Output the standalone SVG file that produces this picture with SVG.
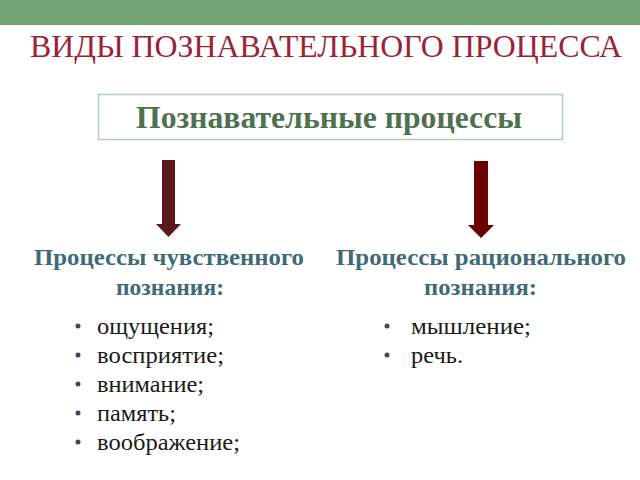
<svg xmlns="http://www.w3.org/2000/svg" width="640" height="480" viewBox="0 0 640 480">
<style>
.serif{font-family:"Liberation Serif","Times New Roman",serif}
.head{font-weight:bold;font-size:24px;fill:#3e6b77}
.item{font-size:24px;fill:#1a1a1a}
.bul{fill:#3a4a5a}
</style>
<rect width="640" height="480" fill="#ffffff"/>
<rect x="0" y="0" width="640" height="25" fill="#71a474"/>
<text class="serif" x="30" y="57" font-size="32" fill="#9b2335" textLength="592" lengthAdjust="spacingAndGlyphs">ВИДЫ ПОЗНАВАТЕЛЬНОГО ПРОЦЕССА</text>
<g id="root">
<rect x="98.5" y="94.5" width="464" height="45" fill="#ffffff" stroke="#b5ccb5" stroke-width="1.5"/>
<text class="serif" x="136" y="128" font-size="31" font-weight="bold" fill="#4f7150" textLength="386" lengthAdjust="spacingAndGlyphs">Познавательные процессы</text>
</g>
<g id="connectors">
<polygon points="162,160 175,160 175,224 181,224 168.5,237 156,224 162,224" fill="#5a1a1a"/>
<polygon points="474,161 488,161 488,225 494,225 481,238 468,225 474,225" fill="#6b0000"/>
</g>
<g id="sensory">
<text class="serif head" x="34" y="265" textLength="270" lengthAdjust="spacingAndGlyphs">Процессы чувственного</text>
<text class="serif head" x="116" y="295" textLength="108" lengthAdjust="spacingAndGlyphs">познания:</text>
<g class="serif item">
<circle class="bul" cx="78" cy="326" r="2.5"/><text x="97" y="334" textLength="117" lengthAdjust="spacingAndGlyphs">ощущения;</text>
<circle class="bul" cx="78" cy="355" r="2.5"/><text x="97" y="363" textLength="127" lengthAdjust="spacingAndGlyphs">восприятие;</text>
<circle class="bul" cx="78" cy="384" r="2.5"/><text x="97" y="392" textLength="107" lengthAdjust="spacingAndGlyphs">внимание;</text>
<circle class="bul" cx="78" cy="413" r="2.5"/><text x="97" y="421" textLength="79" lengthAdjust="spacingAndGlyphs">память;</text>
<circle class="bul" cx="78" cy="442" r="2.5"/><text x="97" y="450" textLength="143" lengthAdjust="spacingAndGlyphs">воображение;</text>
</g>
</g>
<g id="rational">
<text class="serif head" x="336" y="265" textLength="290" lengthAdjust="spacingAndGlyphs">Процессы рационального</text>
<text class="serif head" x="424" y="295" textLength="113" lengthAdjust="spacingAndGlyphs">познания:</text>
<g class="serif item">
<circle class="bul" cx="387" cy="326" r="2.5"/><text x="411" y="334" textLength="120" lengthAdjust="spacingAndGlyphs">мышление;</text>
<circle class="bul" cx="387" cy="355" r="2.5"/><text x="411" y="363" textLength="52" lengthAdjust="spacingAndGlyphs">речь.</text>
</g>
</g>
</svg>
